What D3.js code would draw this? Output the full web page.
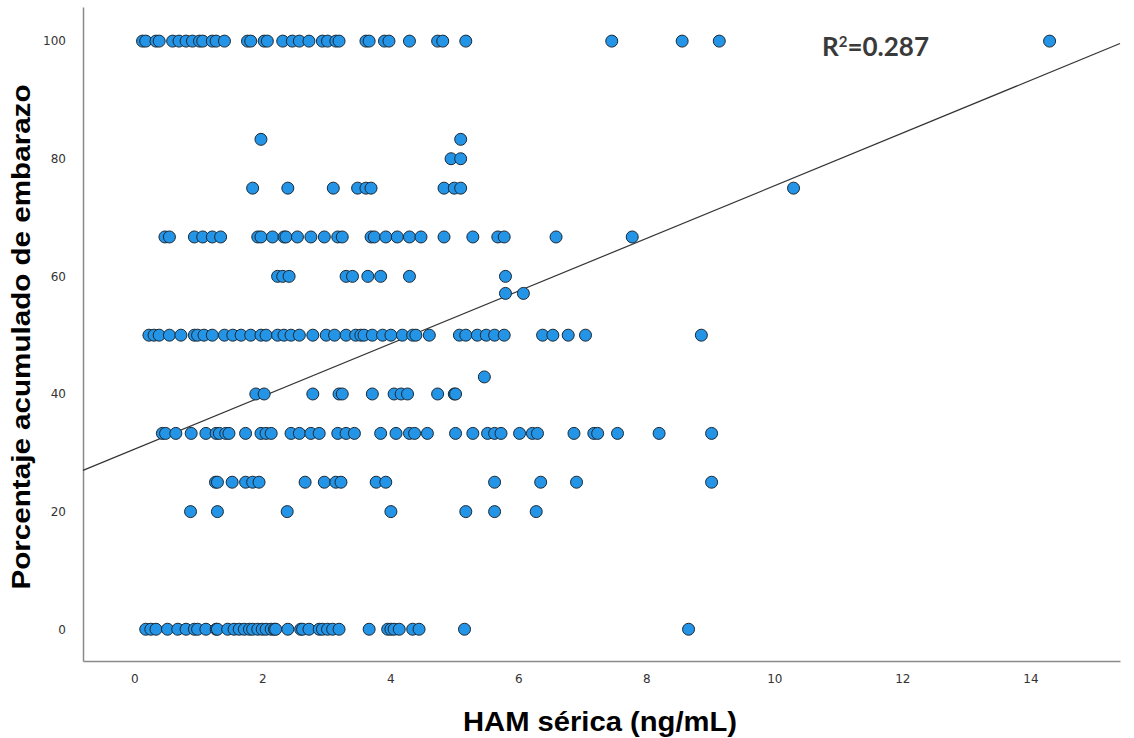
<!DOCTYPE html>
<html>
<head>
<meta charset="utf-8">
<script src="https://cdn.jsdelivr.net/npm/d3@7"></script>
<style>
  body { margin: 0; background: #fff; }
  .tick text { font-family: "DejaVu Sans", sans-serif; font-size: 12px; fill: #333; }
</style>
</head>
<body>
<div id="chart"></div>
<script>
// HAM values (ng/mL), one array per pregnancy-percentage level
let ham100 = [0.13,0.18,0.34,0.39,0.6,0.7,0.81,0.91,1.02,1.07,1.22,1.28,1.41,1.77,1.82,2.03,2.08,2.32,2.47,2.58,2.73,2.94,3.02,3.15,3.2,3.62,3.67,3.91,3.98,4.3,4.74,4.82,5.18,7.46,8.56,9.14,14.3]
let ham83 = [1.98,5.1]
let ham80 = [4.95,5.1]
let ham75 = [1.85,2.4,3.11,3.49,3.62,3.7,4.84,5.0,5.1,10.3]
let ham67 = [0.48,0.55,0.94,1.07,1.22,1.35,1.93,1.98,2.16,2.34,2.37,2.55,2.76,2.97,3.18,3.25,3.7,3.75,3.93,4.11,4.3,4.48,4.84,5.29,5.68,5.78,6.59,7.78]
let ham60 = [2.24,2.32,2.42,3.31,3.41,3.65,3.85,4.3,5.8]
let ham57 = [5.8,6.08]
let ham50 = [0.23,0.31,0.39,0.55,0.73,0.94,0.99,1.09,1.22,1.41,1.54,1.67,1.82,1.98,2.06,2.24,2.34,2.45,2.58,2.79,3.0,3.13,3.31,3.46,3.54,3.59,3.72,3.88,4.01,4.19,4.35,4.4,4.61,5.08,5.18,5.36,5.5,5.63,5.78,6.38,6.54,6.78,7.05,8.86]
let ham43 = [5.47]
let ham40 = [1.9,2.03,2.79,3.2,3.25,3.72,4.06,4.17,4.27,4.74,5.0,5.02]
let ham33 = [0.44,0.49,0.65,0.89,1.12,1.28,1.33,1.43,1.48,1.74,1.98,2.06,2.14,2.45,2.58,2.76,2.89,3.18,3.31,3.44,3.85,4.09,4.3,4.38,4.58,5.02,5.29,5.52,5.63,5.73,6.02,6.22,6.3,6.87,7.18,7.24,7.55,8.2,9.02]
let ham25 = [1.27,1.3,1.53,1.74,1.85,1.95,2.67,2.97,3.15,3.23,3.78,3.93,5.63,6.35,6.91,9.02]
let ham20 = [0.88,1.3,2.39,4.01,5.18,5.63,6.28]
let ham0 = [0.18,0.26,0.34,0.52,0.68,0.81,0.94,0.99,1.12,1.28,1.3,1.46,1.56,1.64,1.72,1.8,1.85,1.93,2.0,2.06,2.14,2.19,2.21,2.4,2.6,2.63,2.73,2.89,2.94,3.02,3.1,3.2,3.67,3.96,4.01,4.06,4.14,4.35,4.45,5.16,8.66]

let levels = [100, 83.3, 80, 75, 66.7, 60, 57.1, 50, 42.9, 40, 33.3, 25, 20, 0]
let groups = [ham100, ham83, ham80, ham75, ham67, ham60, ham57, ham50, ham43, ham40, ham33, ham25, ham20, ham0]

let xTicks = [0, 2, 4, 6, 8, 10, 12, 14]
let yTicks = [0, 20, 40, 60, 80, 100]

// fit line drawn in the picture
let intercept = 30.6
let slope = 4.48
let r2Label = "0.287"

let points = []
groups.forEach((g, i) => g.forEach(x => points.push({x: x, y: levels[i]})))

let svg = d3.select("#chart")
  .append("svg")
  .attr("width", 1134)
  .attr("height", 738)

let x = d3.scaleLinear().domain([-0.8, 15.4]).range([83, 1120])
let y = d3.scaleLinear().domain([-5.4, 105.8]).range([661, 7])

// axes, no tick marks
svg.append("g")
  .attr("transform", "translate(0,661)")
  .call(d3.axisBottom(x).tickValues(xTicks).tickSize(0).tickPadding(13))
svg.append("g")
  .attr("transform", "translate(83,0)")
  .call(d3.axisLeft(y).tickValues(yTicks).tickSize(0).tickPadding(17))

svg.selectAll(".domain").attr("stroke", "#8a8a8a").attr("stroke-width", 1.5)

// fit line across the plot
svg.append("line")
  .attr("x1", x(-0.8)).attr("y1", y(intercept + slope * -0.8))
  .attr("x2", x(15.4)).attr("y2", y(intercept + slope * 15.4))
  .attr("stroke", "#333")
  .attr("stroke-width", 1.2)

svg.selectAll("circle")
  .data(points)
  .enter()
  .append("circle")
  .attr("cx", d => x(d.x))
  .attr("cy", d => y(d.y))
  .attr("r", 6)
  .attr("fill", "#2394e6")
  .attr("stroke", "#1b2a36")
  .attr("stroke-width", 1)

// R² label
let r2 = svg.append("text")
  .attr("x", 822)
  .attr("y", 56)
  .attr("font-family", "Lato, 'Open Sans', sans-serif")
  .attr("font-weight", "bold")
  .attr("font-size", 26)
  .attr("fill", "#3a3a3a")
r2.append("tspan").text("R")
r2.append("tspan").text("2").attr("font-size", 15).attr("dy", -9)
r2.append("tspan").text("=" + r2Label).attr("dy", 9)

// axis titles
svg.append("text")
  .attr("x", 600)
  .attr("y", 731)
  .attr("text-anchor", "middle")
  .attr("font-family", "'Liberation Sans', Arial, sans-serif")
  .attr("font-weight", "bold")
  .attr("font-size", 28)
  .attr("textLength", 274)
  .attr("lengthAdjust", "spacingAndGlyphs")
  .attr("fill", "#000")
  .text("HAM sérica (ng/mL)")

svg.append("text")
  .attr("transform", "translate(30,337) rotate(-90)")
  .attr("text-anchor", "middle")
  .attr("font-family", "'Liberation Sans', Arial, sans-serif")
  .attr("font-weight", "bold")
  .attr("font-size", 26)
  .attr("textLength", 505)
  .attr("lengthAdjust", "spacingAndGlyphs")
  .attr("fill", "#000")
  .text("Porcentaje acumulado de embarazo")
</script>
</body>
</html>
